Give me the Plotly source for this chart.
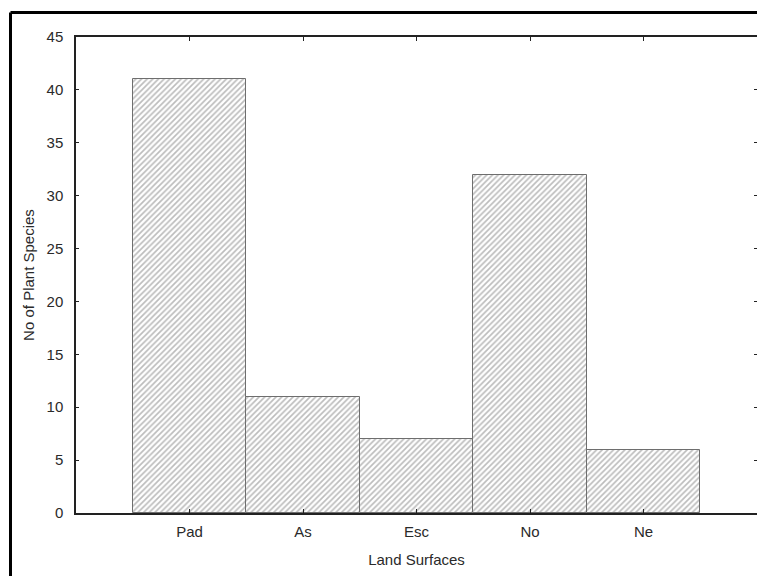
import plotly.graph_objects as go

categories = ["Pad", "As", "Esc", "No", "Ne"]
values = [41, 11, 7, 32, 6]
y_ticks = [0, 5, 10, 15, 20, 25, 30, 35, 40, 45]

W, H = 757, 576
L, R, T, B = 76, 0, 37, 63
pw, ph = W - L - R, H - T - B

fig = go.Figure()
fig.add_trace(go.Bar(
    x=list(range(len(categories))),
    y=values,
    width=1.0,
    marker=dict(
        color="white",
        line=dict(color="#6e6e6e", width=1),
        pattern=dict(shape="/", fgcolor="#7a7a7a", bgcolor="white", size=4, solidity=0.42, fillmode="overlay"),
    ),
    showlegend=False,
))
# invisible trace on the mirror axes (top and right) so their ticks are drawn
fig.add_trace(go.Scatter(x=[None], y=[None], xaxis="x2", yaxis="y2", showlegend=False, hoverinfo="skip"))

font = dict(family="Liberation Sans, Arial, sans-serif", size=15, color="#2a2a2a")

fig.update_layout(
    width=W, height=H,
    margin=dict(l=L, r=R, t=T, b=B),
    paper_bgcolor="white", plot_bgcolor="white",
    font=font,
    bargap=0,
    xaxis=dict(
        range=[-1, 5],
        tickmode="array",
        tickvals=list(range(len(categories))),
        ticktext=categories,
        ticks="inside", ticklen=4, tickcolor="#222",
        showline=True, linecolor="#222", linewidth=1.5,
        mirror=False,
        showgrid=False, zeroline=False,
        title=dict(text="Land Surfaces", standoff=16, font=font),
        ticklabelstandoff=4,
    ),
    xaxis2=dict(
        range=[-1, 5], overlaying="x", side="top",
        tickmode="array", tickvals=list(range(len(categories))),
        ticks="inside", ticklen=4, tickcolor="#222",
        showline=True, linecolor="#222", linewidth=1.5,
        showticklabels=False, showgrid=False, zeroline=False,
    ),
    yaxis=dict(
        range=[0, 45],
        tickmode="array",
        tickvals=y_ticks,
        ticks="inside", ticklen=3, tickcolor="#222",
        showline=True, linecolor="#222", linewidth=1.5,
        mirror=False,
        showgrid=False, zeroline=False,
        title=dict(text="No of Plant Species", standoff=8, font=font),
        ticklabelstandoff=8,
    ),
    yaxis2=dict(
        range=[0, 45],
        overlaying="y", side="right",
        tickmode="array", tickvals=y_ticks,
        ticks="inside", ticklen=3, tickcolor="#222",
        showticklabels=False, showline=False, showgrid=False, zeroline=False,
    ),
)

# outer frame: left and top edges (right and bottom lie outside the picture)
fx = (10.5 - L) / pw
fy = 1 + (T - 12.5) / ph
fig.add_shape(type="line", xref="paper", yref="paper",
              x0=fx, x1=fx, y0=-(B + 5) / ph, y1=fy,
              line=dict(color="black", width=3), layer="above")
fig.add_shape(type="line", xref="paper", yref="paper",
              x0=fx, x1=1.0, y0=fy, y1=fy,
              line=dict(color="black", width=3), layer="above")

fig.write_html("out.html")
